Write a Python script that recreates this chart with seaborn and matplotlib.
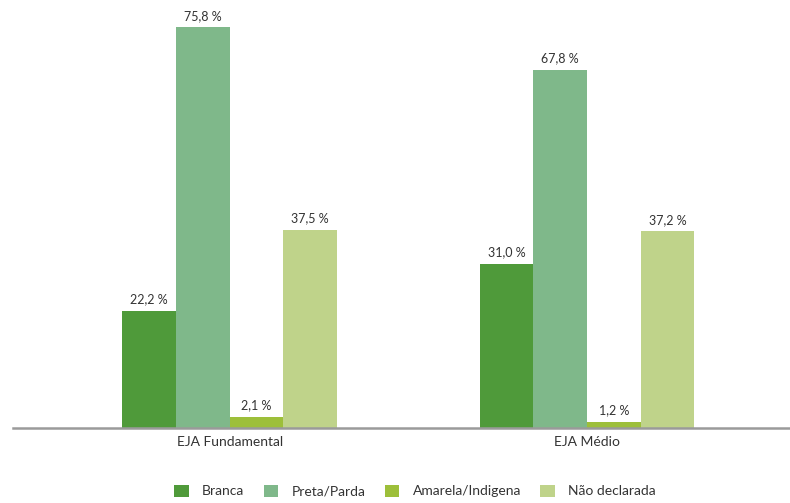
import matplotlib
matplotlib.use("Agg")
import matplotlib.pyplot as plt
from matplotlib.patches import Patch
import seaborn as sns
import pandas as pd

groups = ["EJA Fundamental", "EJA Médio"]
categories = ["Branca", "Preta/Parda", "Amarela/Indígena", "Não declarada"]
legend_labels = ["Branca", "Preta/Parda", "Amarela/Indigena", "Não declarada"]
fundamental = [22.2, 75.8, 2.1, 37.5]
medio = [31.0, 67.8, 1.2, 37.2]
colors = ["#4f9a3a", "#7fb88a", "#9dbf3a", "#bfd38a"]

rows = []
for g, vals in zip(groups, [fundamental, medio]):
    for c, v in zip(categories, vals):
        rows.append({"grupo": g, "cor": c, "valor": v})
df = pd.DataFrame(rows)

sns.set_style("white")
plt.rcParams["font.family"] = ["Lato", "DejaVu Sans"]

fig = plt.figure(figsize=(7.9, 5.03), dpi=100)
ax = fig.add_axes([13 / 790, 75 / 503, 777 / 790, 428 / 503])

sns.barplot(data=df, x="grupo", y="valor", hue="cor", hue_order=categories,
            palette=colors, width=0.6, linewidth=0, saturation=1, ax=ax,
            legend=False)

ax.set_xlim(-0.606, 1.568)
ax.set_ylim(0, 81)

for cont in ax.containers:
    labs = [f"{bar.get_height():.1f}".replace(".", ",") + " %" for bar in cont]
    ax.bar_label(cont, labels=labs, padding=4, fontsize=9, color="#333333")

for s in ["top", "left", "right"]:
    ax.spines[s].set_visible(False)
ax.spines["bottom"].set_color("#9a9a9a")
ax.spines["bottom"].set_linewidth(1.8)
ax.set_yticks([])
ax.tick_params(axis="x", length=0, pad=6, labelsize=10, labelcolor="#333333")
ax.set_xlabel("")
ax.set_ylabel("")

handles = [Patch(facecolor=col, edgecolor="none") for col in colors]
fig.legend(handles, legend_labels, loc="center", ncol=4, frameon=False,
           bbox_to_anchor=(415 / 790, 1 - 491 / 503), fontsize=10,
           handlelength=1.05, handleheight=1.0, handletextpad=0.95,
           columnspacing=1.4, labelcolor="#333333")

fig.savefig("out.png", dpi=100)
